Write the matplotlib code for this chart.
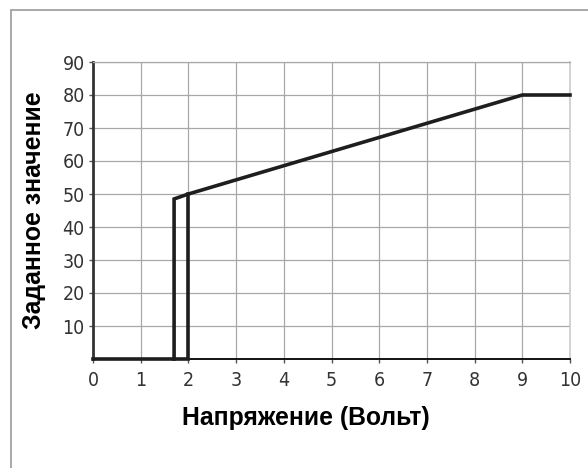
import matplotlib
matplotlib.use("Agg")
import matplotlib.pyplot as plt
from matplotlib.patches import Rectangle

# Characteristic: setpoint vs control voltage (with switch-on hysteresis)
curve_x = [0, 1.7, 1.7, 2, 9, 10]
curve_y = [0, 0, 48.5, 50, 80, 80]
return_x = [1.7, 2, 2]
return_y = [0, 0, 50]

x_ticks = list(range(0, 11))
y_ticks = list(range(10, 100, 10))

x_label = "Напряжение (Вольт)"
y_label = "Заданное значение"

tick_font = dict(family="DejaVu Sans", stretch="condensed", size=14, color="#333333")
label_font = dict(family="Liberation Sans", weight="bold", size=17.8)

fig = plt.figure(figsize=(5.88, 4.68), dpi=100)
fig.patches.append(Rectangle((11 / 588, -0.1), 1.2, 1 - 10 / 468 + 0.1,
                             transform=fig.transFigure, fill=False,
                             edgecolor="#999999", linewidth=1.2))

ax = fig.add_axes([93 / 588, 1 - 359 / 468, (570 - 93) / 588, (359 - 62) / 468])

ax.plot(curve_x, curve_y, color="#1e1e1e", linewidth=2.6,
        solid_joinstyle="miter", zorder=4, clip_on=False)
ax.plot(return_x, return_y, color="#1e1e1e", linewidth=2.6,
        solid_joinstyle="miter", zorder=4, clip_on=False)

ax.set_xlim(0, 10)
ax.set_ylim(0, 90)
ax.set_xticks(x_ticks)
ax.set_yticks(y_ticks)
ax.set_xticklabels([str(v) for v in x_ticks], fontdict=tick_font)
ax.set_yticklabels([str(v) for v in y_ticks], fontdict=tick_font)
ax.tick_params(axis="x", length=3, width=1, color="#555555", pad=6)
ax.tick_params(axis="y", length=3, width=1, color="#555555", pad=3)

ax.grid(True, color="#a8a8a8", linewidth=0.9)
ax.set_axisbelow(True)

ax.spines["left"].set_color("#333333")
ax.spines["left"].set_linewidth(2)
ax.spines["bottom"].set_color("#111111")
ax.spines["bottom"].set_linewidth(1.4)
ax.spines["top"].set_color("#a8a8a8")
ax.spines["top"].set_linewidth(0.9)
ax.spines["right"].set_color("#cccccc")
ax.spines["right"].set_linewidth(1.2)

ax.set_xlabel(x_label, fontdict=label_font, labelpad=11)
ax.xaxis.label.set_x(0.447)
ax.set_ylabel(y_label, fontdict=label_font, labelpad=12)

fig.savefig("out.png", dpi=100)
plt.close(fig)
